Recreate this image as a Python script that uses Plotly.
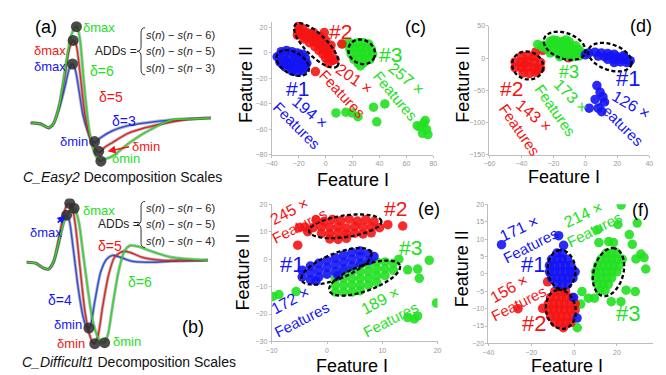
import numpy as np
import plotly.graph_objects as go

W, H = 666, 375
FONT = "Liberation Sans, Arial, sans-serif"
BLUE, RED, GREEN = "#1414f5", "#f51414", "#22e022"
WBLUE, WRED, WGREEN = "#3050e0", "#e02828", "#30d830"

# ---------------- waveform data (a) ----------------
a_blue_n = [0.5,3,5,6.25,7.75,9.25,10.25,11,11.75,12.75,13.75,15,16,16.75,18.25,21.25,25,29.5,36.25,41.25,46.25]
a_blue_v = [0,-0.1,-0.5,-0.1,1.5,3.8,5.5,6.0,5.5,3.3,0.8,-0.9,-1.8,-2.0,-1.5,-0.8,-0.3,0,0.3,0.4,0.5]
a_red_n = [0.5,3,5,6.25,7.75,9.25,10.25,11.25,12,13,14.25,15.5,16.75,18,19.25,21.25,25,29.5,36.25,41.25,46.25]
a_red_v = [0,-0.1,-0.5,-0.1,1.8,5.1,7.5,8.4,8.0,5.1,0.8,-1.5,-2.6,-3.0,-2.5,-2.0,-1.1,-0.5,0.1,0.4,0.5]
a_green_n = [0.5,3,5,6.25,7.75,9.25,10.5,11.5,12.25,13,14,15.25,16.5,18,19.25,21.25,25,29.5,36.25,41.25,46.25]
a_green_v = [0,-0.1,-0.5,-0.1,1.8,5.5,8.5,9.6,9.8,8.5,4.1,-0.5,-2.9,-3.9,-3.7,-3.4,-2.2,-1.0,0.3,0.4,0.5]
a_ext_n = [11.1,11.25,12.1,16.7,17.75,18.3]
a_ext_v = [6.0,8.4,9.8,-1.9,-2.9,-3.9]

# ---------------- waveform data (b) ----------------
b_blue_n = [-0.5,1.75,3.75,5,6.25,7.5,8.75,9.5,10.25,11.25,12.5,13.75,14.75,15.5,16.75,18.25,19.75,21.25,23.25,26.25,31.25,36.25,45.5]
b_blue_v = [-0.2,-0.3,-0.8,-0.9,-0.2,1.5,3.8,4.6,4.1,1.3,-2.7,-5.7,-6.9,-6.8,-4.2,-1.2,0.1,0.5,0.3,-0.1,-0.2,-0.1,0]
b_red_n = [-0.5,1.75,3.75,5,6.25,7.5,8.75,9.75,10.75,11.75,13,14.25,15.5,16.5,17.5,18.75,20.25,21.75,23.75,25.75,28.75,33.75,45.5]
b_red_v = [-0.2,-0.3,-0.8,-0.9,-0.2,2.0,4.5,5.7,5.7,3.8,-0.7,-5.2,-7.7,-8.5,-7.8,-4.7,-1.5,0.3,0.9,0.8,0.3,0,0]
b_green_n = [-0.5,1.75,3.75,5,6.25,7.5,9,10.25,11.25,11.75,12.75,13.75,15,16.25,17.75,19,20,21.25,22.75,24.25,25.75,27.75,31.25,36.25,45.5]
b_green_v = [-0.2,-0.3,-0.8,-0.9,-0.2,1.7,4.0,5.0,5.3,5.2,3.8,0.8,-3.0,-6.2,-8.0,-8.4,-7.7,-4.7,-1.2,0.9,1.5,1.4,0.9,0.3,0]
b_ext_n = [9.6,10.4,11.5,15.25,16.75,19.25]
b_ext_v = [4.6,5.8,5.3,-6.9,-8.5,-8.4]

# ---------------- scatter data (c) ----------------
c_blue_x = [-33,-29,-25,-21,-17,-36,-31,-27,-23,-19,-15,-34,-30,-26,-22,-18,-14,-30,-26,-22,-18,-15,-25,-21,-17,-28,-20,-24,-32,-16]
c_blue_y = [1,2,1,0,-1,-3,-2,-4,-3,-2,-4,-7,-6,-8,-7,-6,-8,-11,-10,-12,-11,-10,-14,-15,-14,-9,-5,-13,-9,-12]
c_red_x = [-20,-17,-21,-17,-14,-13,-16,-10,-9,-12,-6,-5,-8,-2,-2,-5,1,1,-2,4,3,0,5,2,-11,-7,-4,-1,2,-15,-19,7,-20,-1,12,-7.6,-4,0,4,-9]
c_red_y = [18,19,14,15,16,12,11,13,9,8,10,6,5,7,3,2,4,0,-1,1,-4,-4,-6,-8,15,12,9,5,2,13,16,-5,21,16,7,-14.6,13,10,6,16]
c_green_x = [20,24,28,32,18,22,26,30,34,19,23,27,31,35,21,25,29,33,24,28,17,13,7.7,15,19.6,24,35.6,44,38,70,73,75,72,76,68,74,25.8]
c_green_y = [7,8,8,7,3,4,4,4,3,-1,0,0,-1,-1,-5,-4,-5,-5,-8,-8,8,7,-47,-46.5,-47,-50,-42.5,-40,-54,-58,-55,-60,-63,-64,-57,-53,-10.2]

# ---------------- scatter data (d) ----------------
d_red_x = [-40,-36,-32,-44,-40,-36,-32,-28,-44,-40,-36,-32,-28,-39,-35,-31,-31,-26.7,-10.5,-38,-30]
d_red_y = [3,4,2,-6,-6,-5,-6,-7,-15,-15,-14,-15,-16,-23,-24,-22,9.5,12,0.3,-10,-19]
d_green_x = [-22,-18,-14,-10,-26,-22,-18,-14,-10,-6,-24,-20,-16,-12,-8,-4,-22,-18,-14,-10,-6,-2,-16,-12,-8,-4,-29.8,-27,-20,-12]
d_green_y = [26,27,26,25,20,21,20,21,20,19,14,15,14,15,14,13,8,9,8,8,7,8,2,3,2,3,21,17,28,28]
d_blue_x = [2,6,10,14,18,8,12,16,20,24,14,18,22,26,18,22,26,0,28,24,7.2,9.2,6.1,11,2.4,8,10.2,12]
d_blue_y = [8,9,8,7,6,3,2,3,2,1,-2,-3,-2,-3,-7,-6,-7,5,-4,4,-42.6,-52.8,-64,-60,-77.5,-77.5,-83,-68]

# ---------------- scatter data (e) ----------------
e_red_x = [-2,-0.5,1,2.5,4,5.5,7,8.5,-4,-2.5,-1,0.5,2,3.5,5,6.5,8,9.5,-1,0.5,2,3.5,5,6.5,8,0.5,2,3.5,-5.3,13.7,11,-5,-3.5]
e_red_y = [14.3,13.8,14.5,14,14.6,13.9,14.4,13.7,11.7,11.5,11.9,11.6,11.8,11.4,11.9,11.6,11.8,11.5,9.4,9.2,9.6,9.3,9.5,9.2,9.6,7.4,7.2,7.6,5.1,12.1,12.6,11.5,10]
e_blue_x = [-4.5,-4.5,-3,-3,-3,-1.5,-1.5,-1.5,0,0,0,1.5,1.5,1.5,3,3,3,4.5,4.5,4.5,6,6,6,7.5,7.5,8.5,-2,2]
e_blue_y = [-6.5,-4,-7.5,-5,-2.5,-6.5,-4,-1.5,-5.5,-3,-0.5,-4.5,-2,0.5,-3.5,-1,1.5,-2.5,0,2.5,-1.5,1,3,-0.5,2,1,-8,-6]
e_green_x = [1.5,1.5,1.5,3,3,3,3,4.5,4.5,4.5,4.5,6,6,6,6,6,7.5,7.5,7.5,7.5,9,9,9,9,10.5,10.5,10.5,12,12,13,-9.8,-8.7,-5.6,14.6,16.4,16.7,18.5,19.8,14.6,15.8,16.4]
e_green_y = [-7,-9.5,-12,-4.5,-7,-9.5,-12,-4.5,-7,-9.5,-12,-2,-4.5,-7,-9.5,-11.5,-2,-4.5,-7,-9.5,-1,-3.5,-6,-8.5,-1,-3.5,-6,-1.5,-4,0,-13.6,-12.9,-11.8,-3.9,-3.6,-7,-0.4,-16,-21.3,-21.8,-20.7]

# ---------------- scatter data (f) ----------------
f_blue_x = [-8,-5.5,-10.5,-8,-5.5,-3,-11.5,-9,-6.5,-4,-1.5,-11.5,-9,-6.5,-4,-1.5,0.5,-10.5,-8,-5.5,-3,-0.5,-8,-5.5,-3,-33.9,-7.2,-4.9,-0.2,1.4]
f_blue_y = [6,6,4.2,4.2,4.2,4.2,2.4,2.4,2.4,2.4,2.4,0.6,0.6,0.6,0.6,0.6,0.6,-1.2,-1.2,-1.2,-1.2,-1.2,-3,-3,-3,8.4,11,8.2,-6.8,-12.7]
f_red_x = [-9,-6.5,-4,-11,-8.5,-6,-3.5,-1,-12,-9.5,-7,-4.5,-2,0.5,-12,-9.5,-7,-4.5,-2,0.5,-11,-8.5,-6,-3.5,-1,-9,-6.5,-4,-1.5,-5,-12.4,-14.7,-26.2]
f_red_y = [-5,-5,-5,-6.8,-6.8,-6.8,-6.8,-6.8,-8.6,-8.6,-8.6,-8.6,-8.6,-8.6,-10.4,-10.4,-10.4,-10.4,-10.4,-10.4,-12.2,-12.2,-12.2,-12.2,-12.2,-14,-14,-14,-14,-15.5,-2.3,-9.9,-10]
f_green_x = [15,17.5,20,12.5,15,17.5,20,22.5,11,13.5,16,18.5,21,10,12.5,15,17.5,20,10,12.5,15,17.5,11,13.5,16,12,14.5,22,20.5,25.8,29.5,27.2,28.9,31.2,32.7,33.5,28.6,24.3,18.4,16.2,11.6,11,3.7,6.7,3.1,9.5,21.9,1.5,17.4]
f_green_y = [6,6,6,4.2,4.2,4.2,4.2,4.2,2.4,2.4,2.4,2.4,2.4,0.6,0.6,0.6,0.6,0.6,-1.2,-1.2,-1.2,-1.2,-3,-3,-3,-4.8,-4.8,19.8,14.2,11.3,14.6,8.5,4.3,5.7,4.7,1.4,-5.1,-4.7,9,9.3,9,12.7,-5.1,-7,-8.7,-7,-8,-15.5,-8]

# cluster ellipses: (centre x, centre y, semi-axes in px, angle deg)
c_ellipses = [(-24.4, -7.9, 18, 11, -30), (-6.9, 5.9, 30, 11, -45), (26.8, 0.9, 14, 12, -30)]
d_ellipses = [(-36.1, -11.5, 16, 14, -20), (-13, 18.9, 22, 13, -20), (15.4, 1.4, 23, 13, -20)]
e_ellipses = [(3.3, 12.0, 37, 11, 8), (1.7, -2.6, 38, 13, 22), (6.8, -6.9, 38, 13, 20)]
f_ellipses = [(-5.8, 1.2, 20, 14, 95), (-6.2, -10.2, 20, 15, 100), (16.1, 0.5, 25, 15, 75)]

# tick values
c_xt, c_yt = [-40,-20,0,20,40,60,80], [-80,-60,-40,-20,0,20]
d_xt, d_yt = [-60,-40,-20,0,20,40], [-150,-100,-50,0,50]
e_xt, e_yt = [-10,0,10,20], [-30,-20,-10,0,10,20]
f_xt, f_yt = [-40,-20,0,20], [-20,-15,-10,-5,0,5,10,15,20]

# ---------------- layout geometry (pixels) ----------------
PANELS = {
    "a": dict(ax=("x", "y"), px=(10, 210), xr=(-1.25, 48.75), py=(5, 160), yr=(-4.7, 10.8)),
    "b": dict(ax=("x2", "y2"), px=(10, 210), xr=(-1.25, 48.75), py=(190, 345), yr=(-9.2, 6.3)),
    "c": dict(ax=("x3", "y3"), px=(261.7, 425.7), xr=(-40, 80), py=(10, 145.7), yr=(-80, 24.4)),
    "d": dict(ax=("x4", "y4"), px=(482.7, 645), xr=(-60, 40), py=(14, 145.7), yr=(-150, 50)),
    "e": dict(ax=("x5", "y5"), px=(261.7, 430), xr=(-10, 20), py=(196, 335.7), yr=(-30, 20)),
    "f": dict(ax=("x6", "y6"), px=(481.7, 649), xr=(-40, 37), py=(196, 337.7), yr=(-20, 20)),
}

fig = go.Figure()


def wave(key, n, v, color):
    xa, ya = PANELS[key]["ax"]
    fig.add_trace(go.Scatter(x=n, y=v, mode="lines", xaxis=xa, yaxis=ya,
                             line=dict(color="rgba(60,60,60,0.35)", width=3.2, shape="spline", smoothing=0.7),
                             hoverinfo="skip"))
    fig.add_trace(go.Scatter(x=n, y=v, mode="lines", xaxis=xa, yaxis=ya,
                             line=dict(color=color, width=1.5, shape="spline", smoothing=0.7)))


for key, series, ext in [
    ("a", [(a_blue_n, a_blue_v, WBLUE), (a_red_n, a_red_v, WRED), (a_green_n, a_green_v, WGREEN)], (a_ext_n, a_ext_v)),
    ("b", [(b_blue_n, b_blue_v, WBLUE), (b_red_n, b_red_v, WRED), (b_green_n, b_green_v, WGREEN)], (b_ext_n, b_ext_v)),
]:
    for n, v, col in series:
        wave(key, n, v, col)
    xa, ya = PANELS[key]["ax"]
    fig.add_trace(go.Scatter(x=ext[0], y=ext[1], mode="markers", xaxis=xa, yaxis=ya,
                             marker=dict(size=11, color="rgba(45,45,45,0.85)")))

for key, groups in [
    ("c", [(c_green_x, c_green_y, GREEN), (c_red_x, c_red_y, RED), (c_blue_x, c_blue_y, BLUE)]),
    ("d", [(d_red_x, d_red_y, RED), (d_green_x, d_green_y, GREEN), (d_blue_x, d_blue_y, BLUE)]),
    ("e", [(e_red_x, e_red_y, RED), (e_green_x, e_green_y, GREEN), (e_blue_x, e_blue_y, BLUE)]),
    ("f", [(f_green_x, f_green_y, GREEN), (f_red_x, f_red_y, RED), (f_blue_x, f_blue_y, BLUE)]),
]:
    xa, ya = PANELS[key]["ax"]
    for x, y, col in groups:
        fig.add_trace(go.Scatter(x=x, y=y, mode="markers", xaxis=xa, yaxis=ya,
                                 marker=dict(size=9.5, color=col, opacity=0.9, line=dict(width=0))))

# ---------------- axes ----------------
layout = dict(width=W, height=H, margin=dict(l=0, r=0, t=0, b=0), paper_bgcolor="white",
              plot_bgcolor="rgba(0,0,0,0)", showlegend=False, font=dict(family=FONT))
ticks = {"c": (c_xt, c_yt), "d": (d_xt, d_yt), "e": (e_xt, e_yt), "f": (f_xt, f_yt)}
for key, p in PANELS.items():
    xa, ya = p["ax"]
    xname = "xaxis" + xa[1:]
    yname = "yaxis" + ya[1:]
    xdom = [p["px"][0] / W, p["px"][1] / W]
    ydom = [1 - p["py"][1] / H, 1 - p["py"][0] / H]
    if key in ("a", "b"):
        layout[xname] = dict(domain=xdom, range=list(p["xr"]), visible=False, anchor=ya)
        layout[yname] = dict(domain=ydom, range=list(p["yr"]), visible=False, anchor=xa)
    else:
        common = dict(showgrid=False, zeroline=False, showline=True, linecolor="#bdbdbd", linewidth=1,
                      ticks="outside", ticklen=2, tickcolor="#bdbdbd",
                      tickfont=dict(family=FONT, size=7, color="#999999"))
        layout[xname] = dict(domain=xdom, range=list(p["xr"]), tickvals=ticks[key][0], anchor=ya, **common)
        layout[yname] = dict(domain=ydom, range=list(p["yr"]), tickvals=ticks[key][1], anchor=xa, **common)
fig.update_layout(**layout)

# ---------------- ellipses ----------------
shapes = []


def ellipse(key, cx, cy, a, b, ang):
    p = PANELS[key]
    sx = (p["px"][1] - p["px"][0]) / (p["xr"][1] - p["xr"][0])
    sy = (p["py"][1] - p["py"][0]) / (p["yr"][1] - p["yr"][0])
    t = np.linspace(0, 2 * np.pi, 72)
    th = np.radians(ang)
    dx = a * np.cos(t) * np.cos(th) - b * np.sin(t) * np.sin(th)
    dy = a * np.cos(t) * np.sin(th) + b * np.sin(t) * np.cos(th)
    xs, ys = cx + dx / sx, cy + dy / sy
    path = "M " + " L ".join(f"{x:.4f},{y:.4f}" for x, y in zip(xs, ys)) + " Z"
    xa, ya = p["ax"]
    shapes.append(dict(type="path", path=path, xref=xa, yref=ya,
                       line=dict(color="black", width=2.3, dash="4px,2.5px")))


for key, ells in [("c", c_ellipses), ("d", d_ellipses), ("e", e_ellipses), ("f", f_ellipses)]:
    for e in ells:
        ellipse(key, *e)


def P(px, py):
    return px / W, 1 - py / H


def brace(x, top, bot, w=4.0):
    mid = (top + bot) / 2
    pts = [("M", [(x + w, top)]), ("Q", [(x, top), (x, top + 5)]), ("L", [(x, mid - 5)]),
           ("Q", [(x, mid), (x - w, mid)]), ("Q", [(x, mid), (x, mid + 5)]), ("L", [(x, bot - 5)]),
           ("Q", [(x, bot), (x + w, bot)])]
    s = ""
    for cmd, cs in pts:
        s += cmd + " " + " ".join("%.5f,%.5f" % P(a, b) for a, b in cs) + " "
    shapes.append(dict(type="path", path=s.strip(), xref="paper", yref="paper",
                       line=dict(color="#333", width=1)))


brace(129, 16, 64)
brace(129, 193, 240)
fig.update_layout(shapes=shapes)

# ---------------- text ----------------
ann = []


def txt(px, py, s, color="black", size=13, angle=0, xanchor="center"):
    x, y = P(px, py)
    ann.append(dict(x=x, y=y, xref="paper", yref="paper", text=s, showarrow=False,
                    font=dict(family=FONT, size=size, color=color), textangle=angle,
                    xanchor=xanchor, yanchor="middle"))


def arrow(tipx, tipy, tailx, taily, color):
    x, y = P(tipx, tipy)
    ann.append(dict(x=x, y=y, xref="paper", yref="paper", text="", showarrow=True,
                    ax=tailx - tipx, ay=taily - tipy, arrowhead=2, arrowsize=1, arrowwidth=1.6,
                    arrowcolor=color))


# (a)
txt(32, 15, "(a)", size=18)
txt(86, 16, "δmax", GREEN, 13)
txt(37, 39, "δmax", RED, 13)
txt(37, 55.5, "δmax", BLUE, 13)
txt(89, 60, "δ=6", GREEN, 14)
txt(98, 87, "δ=5", RED, 14)
txt(112, 111, "δ=3", BLUE, 14)
txt(61, 132, "δmin", BLUE, 13)
txt(134, 137, "δmin", RED, 13)
txt(114, 149, "δmin", GREEN, 13)
arrow(95, 142, 118, 137, RED)
txt(104, 40, "ADDs =", "#222", 12)
txt(132, 23, "<i>s</i>(<i>n</i>) − <i>s</i>(<i>n</i> − 6)", "#222", 11, xanchor="left")
txt(132, 40, "<i>s</i>(<i>n</i>) − <i>s</i>(<i>n</i> − 5)", "#222", 11, xanchor="left")
txt(132, 57, "<i>s</i>(<i>n</i>) − <i>s</i>(<i>n</i> − 3)", "#222", 11, xanchor="left")
txt(110, 168, "<i>C_Easy2</i> Decomposition Scales", "#111", 14)

# (b)
txt(86, 202, "δmax", GREEN, 13)
txt(32, 225, "δmax", BLUE, 13)
arrow(52, 207, 43, 216, BLUE)
txt(107, 216, "ADDs =", "#222", 12)
txt(132, 200, "<i>s</i>(<i>n</i>) − <i>s</i>(<i>n</i> − 6)", "#222", 11, xanchor="left")
txt(132, 216, "<i>s</i>(<i>n</i>) − <i>s</i>(<i>n</i> − 5)", "#222", 11, xanchor="left")
txt(132, 233, "<i>s</i>(<i>n</i>) − <i>s</i>(<i>n</i> − 4)", "#222", 11, xanchor="left")
txt(97, 238, "δ=5", RED, 14)
txt(128, 275, "δ=6", GREEN, 14)
txt(47, 293, "δ=4", BLUE, 14)
txt(55, 318, "δmin", BLUE, 13)
txt(58, 338, "δmin", RED, 13)
txt(115, 336, "δmin", GREEN, 13)
txt(182, 321, "(b)", size=18)
txt(117, 357, "<i>C_Difficult1</i> Decomposition Scales", "#111", 14)

# (c)
txt(408, 15, "(c)", size=18)
txt(288, 78, "#1", BLUE, 21)
txt(331, 20, "#2", RED, 21)
txt(382, 43, "#3", GREEN, 21)
txt(301, 102, "194 ×", BLUE, 16, 40)
txt(287, 116, "Features", BLUE, 15, 45)
txt(345, 68, "201 ×", RED, 16, 35)
txt(333, 83, "Features", RED, 15, 47)
txt(398, 68, "257 ×", GREEN, 16, 40)
txt(387, 85, "Features", GREEN, 15, 50)
txt(235, 74, "Feature II", "black", 18, -90)
txt(344, 171, "Feature I", "black", 18)

# (d)
txt(637, 14, "(d)", size=18)
txt(505, 78, "#2", RED, 21)
txt(563, 61, "#3", GREEN, 18)
txt(623, 68, "#1", BLUE, 22)
txt(528, 105, "143 ×", RED, 16, 40)
txt(513, 120, "Features", RED, 15, 55)
txt(565, 85, "173 ×", GREEN, 16, 45)
txt(550, 100, "Features", GREEN, 15, 55)
txt(626, 94, "126 ×", BLUE, 16, 30)
txt(615, 113, "Features", BLUE, 15, 45)
txt(455, 74, "Feature II", "black", 18, -90)
txt(558, 168, "Feature I", "black", 18)

# (e)
txt(421, 201, "(e)", size=18)
txt(387, 200, "#2", RED, 21)
txt(282, 257, "#1", BLUE, 22)
txt(403, 240, "#3", GREEN, 21)
txt(279, 203, "245 ×", RED, 16, -28)
txt(290, 218, "Features", RED, 15, -27)
txt(280, 294, "172 ×", BLUE, 16, -28)
txt(292, 313, "Features", BLUE, 15, -27)
txt(372, 294, "189 ×", GREEN, 16, -28)
txt(382, 313, "Features", GREEN, 15, -27)
txt(233, 265, "Feature II", "black", 18, -90)
txt(343, 361, "Feature I", "black", 18)

# (f)
txt(636, 202, "(f)", size=18)
txt(513, 221, "171 ×", BLUE, 16, -25)
txt(524, 238, "Features", BLUE, 15, -27)
txt(578, 206, "214 ×", GREEN, 16, -25)
txt(589, 222, "Features", GREEN, 15, -27)
txt(527, 257, "#1", BLUE, 22)
txt(503, 282, "156 ×", RED, 16, -30)
txt(512, 297, "Features", RED, 15, -27)
txt(528, 317, "#2", RED, 22)
txt(623, 307, "#3", GREEN, 22)
txt(455, 262, "Feature II", "black", 18, -90)
txt(561, 361, "Feature I", "black", 18)

fig.update_layout(annotations=ann)
fig.write_html("out.html")
